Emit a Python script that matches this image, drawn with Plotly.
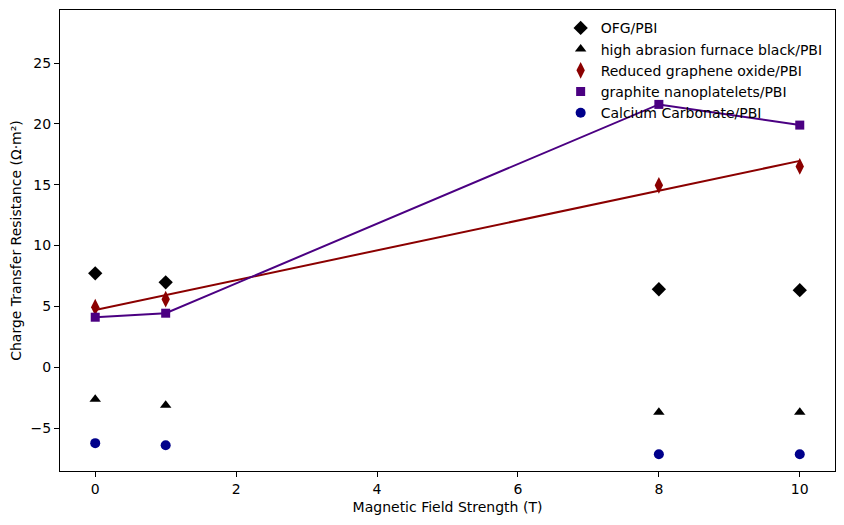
import plotly.graph_objects as go

# magnetic field strength (T)
field = [0, 1, 8, 10]

# charge transfer resistance for each composite
ofg = [7.72, 6.98, 6.41, 6.33]
haf_black = [-2.63, -3.12, -3.70, -3.70]
rgo = [4.93, 5.59, 14.95, 16.5]
gnp = [4.11, 4.44, 21.6, 19.9]
caco3 = [-6.24, -6.41, -7.15, -7.15]

# trend line drawn through reduced graphene oxide
rgo_trend = [4.70, 5.93, 14.51, 16.96]

fig = go.Figure()

# lines first so markers sit on top
fig.add_trace(go.Scatter(x=field, y=rgo_trend, mode="lines",
                         line=dict(color="#8B0000", width=2), showlegend=False))
fig.add_trace(go.Scatter(x=field, y=gnp, mode="lines",
                         line=dict(color="#4B0082", width=2), showlegend=False))

series = [
    ("OFG/PBI", ofg, "diamond", "black", 11),
    ("high abrasion furnace black/PBI", haf_black, "triangle-up", "black", 10),
    ("Reduced graphene oxide/PBI", rgo, "diamond-tall", "#8B0000", 12),
    ("graphite nanoplatelets/PBI", gnp, "square", "#4B0082", 9),
    ("Calcium Carbonate/PBI", caco3, "circle", "#00008B", 10),
]
for name, vals, sym, col, sz in series:
    fig.add_trace(go.Scatter(x=field, y=vals, mode="markers", name=name,
                             marker=dict(symbol=sym, color=col, size=sz,
                                         line=dict(width=0))))

axis_style = dict(showline=True, linecolor="black", linewidth=1, mirror=True,
                  ticks="outside", ticklen=5, tickcolor="black",
                  showgrid=False, zeroline=False, automargin=False,
                  tickfont=dict(size=14, color="black"))

fig.update_xaxes(range=[-0.5, 10.5], dtick=2,
                 title=dict(text="Magnetic Field Strength (T)",
                            font=dict(size=14, color="black"), standoff=6),
                 **axis_style)
fig.update_yaxes(range=[-8.53, 29.36], dtick=5,
                 title=dict(text="Charge Transfer Resistance (Ω·m²)",
                            font=dict(size=14, color="black"), standoff=7),
                 **axis_style)

# page body adds ~8px offset, margins compensate
fig.update_layout(
    width=844, height=525,
    margin=dict(l=52, r=17, t=2, b=62),
    plot_bgcolor="white", paper_bgcolor="white",
    font=dict(family="DejaVu Sans", size=14, color="black"),
    legend=dict(x=0.646, y=0.995, xanchor="left", yanchor="top",
                bgcolor="rgba(0,0,0,0)", borderwidth=0,
                font=dict(size=14), tracegroupgap=0),
)

fig.write_html("out.html")
